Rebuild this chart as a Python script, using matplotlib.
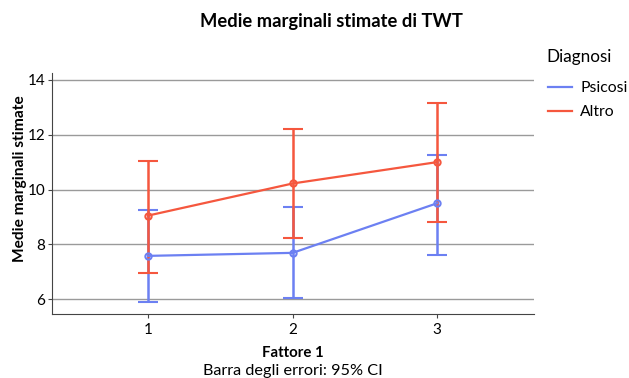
import matplotlib
matplotlib.use("Agg")
import matplotlib.pyplot as plt
import numpy as np

plt.rcParams['font.family'] = ['Lato', 'DejaVu Sans']

fattore = [1, 2, 3]
psicosi_mean = [7.58, 7.69, 9.50]
psicosi_lo = [5.89, 6.04, 7.60]
psicosi_hi = [9.24, 9.38, 11.27]
altro_mean = [9.05, 10.22, 11.00]
altro_lo = [6.95, 8.22, 8.80]
altro_hi = [11.05, 12.20, 13.14]
yticks = [6, 8, 10, 12, 14]

blue = '#6C80F2'
red = '#F5573E'

fig = plt.figure(figsize=(6.29, 3.78), dpi=100)
ax = fig.add_axes([52/629, 1-314/378, (534-52)/629, (314-73)/378])

for m, lo, hi, c, lab in [(psicosi_mean, psicosi_lo, psicosi_hi, blue, 'Psicosi'),
                          (altro_mean, altro_lo, altro_hi, red, 'Altro')]:
    m = np.array(m); lo = np.array(lo); hi = np.array(hi)
    ax.errorbar(fattore, m, yerr=[m - lo, hi - m], color=c, lw=1.6,
                elinewidth=1.8, capsize=7, capthick=2.8, marker='o', ms=4.5,
                mfc='none', mew=1.5, label=lab)

ax.set_xlim(0.335, 3.67)
ax.set_ylim(5.46, 14.25)
ax.set_yticks(yticks)
ax.set_xticks(fattore)
ax.grid(axis='y', color='#9a9a9a', lw=1)
ax.set_axisbelow(True)
for s in ['top', 'right']:
    ax.spines[s].set_visible(False)
ax.spines['left'].set_color('#444444')
ax.spines['bottom'].set_color('#444444')
ax.tick_params(axis='y', length=3, labelsize=11, color='#444444', pad=2)
ax.tick_params(axis='x', length=3, labelsize=11, color='#444444')
ax.set_ylabel('Medie marginali stimate', fontsize=11.2, fontweight='bold', va='center')
ax.yaxis.set_label_coords(-32/482, (314-179)/241)
fig.text(293/629, 1-353/378, 'Fattore 1', ha='center', va='center', fontsize=10.8, fontweight='bold')
fig.text(293/629, 1-371/378, 'Barra degli errori: 95% CI', ha='center', va='center', fontsize=11.7)
fig.text(331/629, 1-22/378, 'Medie marginali stimate di TWT', ha='center', va='center',
         fontsize=13.2, fontweight='bold')

fig.text(546/629, 1-57/378, 'Diagnosi', ha='left', va='center', fontsize=12.3)
handles = [plt.Line2D([], [], color=blue, lw=1.6), plt.Line2D([], [], color=red, lw=1.6)]
leg = fig.legend(handles, ['Psicosi', 'Altro'], loc='upper left',
                 bbox_to_anchor=(542/629, 1-75/378), frameon=False, fontsize=11.3,
                 handlelength=1.5, handletextpad=0.55,
                 labelspacing=0.62, borderaxespad=0)

fig.savefig('out.png', dpi=100)
